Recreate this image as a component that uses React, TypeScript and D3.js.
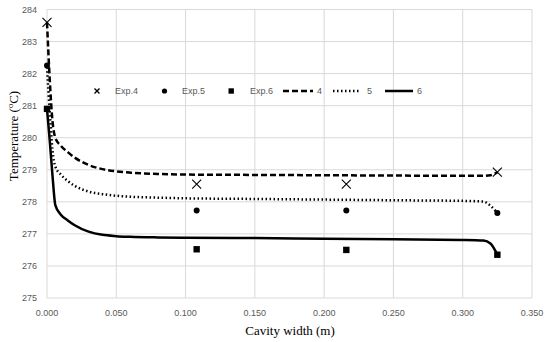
import React from "react";
import * as d3 from "d3";

const width = 550;
const height = 342;
const margin = { top: 9.5, right: 18, bottom: 44, left: 47 };

// simulated curves (cavity width in m, temperature in °C)
const curveX = [0, 0.002, 0.004, 0.006, 0.01, 0.015, 0.02, 0.03, 0.04, 0.05, 0.06, 0.08, 0.1, 0.15, 0.2, 0.25, 0.3, 0.315, 0.32, 0.325];
const sim4 = [283.6, 281.8, 280.5, 280.0, 279.75, 279.55, 279.38, 279.15, 279.02, 278.95, 278.91, 278.87, 278.85, 278.84, 278.83, 278.82, 278.81, 278.81, 278.83, 278.92];
const sim5 = [282.2, 280.8, 279.6, 279.1, 278.85, 278.65, 278.5, 278.32, 278.24, 278.19, 278.16, 278.13, 278.11, 278.09, 278.07, 278.05, 278.03, 278.01, 277.88, 277.65];
const sim6 = [280.9, 279.9, 278.8, 277.9, 277.6, 277.42, 277.27, 277.07, 276.97, 276.93, 276.91, 276.89, 276.88, 276.87, 276.85, 276.83, 276.81, 276.79, 276.7, 276.35];

// experimental points
const expX = [0, 0.108, 0.216, 0.325];
const exp4 = [283.6, 278.55, 278.55, 278.93];
const exp5 = [282.25, 277.73, 277.73, 277.65];
const exp6 = [280.9, 276.52, 276.5, 276.35];

const xTicks = [0, 0.05, 0.1, 0.15, 0.2, 0.25, 0.3, 0.35];
const yTicks = [275, 276, 277, 278, 279, 280, 281, 282, 283, 284];

const grey = "#595959";
const gridColor = "#d9d9d9";
const tickFont = "Liberation Sans, Arial, sans-serif";
const titleFont = "Liberation Serif, Times New Roman, serif";

const xScale = d3.scaleLinear().domain([0, 0.35]).range([margin.left, width - margin.right]);
const yScale = d3.scaleLinear().domain([275, 284]).range([height - margin.bottom, margin.top]);

const lineGen = d3
  .line<number>()
  .x((d, i) => xScale(curveX[i]))
  .y(d => yScale(d))
  .curve(d3.curveMonotoneX);

const Cross = ({ x, y, s, w }: { x: number; y: number; s: number; w: number }) => (
  <path d={`M${x - s},${y - s}L${x + s},${y + s}M${x - s},${y + s}L${x + s},${y - s}`} stroke="#000" strokeWidth={w} fill="none" />
);

const App = () => {
  const legendY = 91;
  return (
    <svg width={width} height={height} style={{ position: "absolute", left: 0, top: 0, background: "#fff" }}>
      {/* grid */}
      {xTicks.map(t => (
        <line key={"gx" + t} x1={xScale(t)} x2={xScale(t)} y1={yScale(284)} y2={yScale(275)} stroke={gridColor} strokeWidth={1} />
      ))}
      {yTicks.map(t => (
        <line key={"gy" + t} x1={xScale(0)} x2={xScale(0.35)} y1={yScale(t)} y2={yScale(t)} stroke={gridColor} strokeWidth={1} />
      ))}

      {/* tick labels */}
      {xTicks.map(t => (
        <text key={"tx" + t} x={xScale(t)} y={yScale(275) + 18} textAnchor="middle" fontSize={9} fill={grey} fontFamily={tickFont}>
          {d3.format(".3f")(t)}
        </text>
      ))}
      {yTicks.map(t => (
        <text key={"ty" + t} x={37} y={yScale(t) + 3.2} textAnchor="end" fontSize={9} fill={grey} fontFamily={tickFont}>
          {t}
        </text>
      ))}

      {/* axis titles */}
      <text x={290} y={335} textAnchor="middle" fontSize={13} fontFamily={titleFont} fill="#000">
        Cavity width (m)
      </text>
      <text transform="translate(18, 136) rotate(-90)" textAnchor="middle" fontSize={13} fontFamily={titleFont} fill="#000">
        Temperature (<tspan fontSize={8.5} dy={-5}>o</tspan><tspan dy={5}>C)</tspan>
      </text>

      {/* simulated curves */}
      <path d={lineGen(sim4) || ""} fill="none" stroke="#000" strokeWidth={2.5} strokeDasharray="6,3" />
      <path d={lineGen(sim5) || ""} fill="none" stroke="#000" strokeWidth={2.5} strokeDasharray="1.5,2.5" />
      <path d={lineGen(sim6) || ""} fill="none" stroke="#000" strokeWidth={2.5} />

      {/* experimental points */}
      {exp4.map((v, i) => (
        <Cross key={"e4" + i} x={xScale(expX[i])} y={yScale(v)} s={4.5} w={1.1} />
      ))}
      {exp5.map((v, i) => (
        <circle key={"e5" + i} cx={xScale(expX[i])} cy={yScale(v)} r={3} fill="#000" />
      ))}
      {exp6.map((v, i) => (
        <rect key={"e6" + i} x={xScale(expX[i]) - 3.2} y={yScale(v) - 3.2} width={6.4} height={6.4} fill="#000" />
      ))}

      {/* legend */}
      <g fontSize={9} fill={grey} fontFamily={tickFont}>
        <Cross x={97} y={legendY} s={2.5} w={1.4} />
        <text x={115} y={legendY + 3.2}>Exp.4</text>
        <circle cx={164.5} cy={legendY} r={2.6} fill="#000" />
        <text x={182} y={legendY + 3.2}>Exp.5</text>
        <rect x={228.5} y={legendY - 2.7} width={5.4} height={5.4} fill="#000" />
        <text x={250} y={legendY + 3.2}>Exp.6</text>
        <line x1={283} x2={313} y1={legendY} y2={legendY} stroke="#000" strokeWidth={2.5} strokeDasharray="6,3" />
        <text x={317} y={legendY + 3.2}>4</text>
        <line x1={333} x2={361} y1={legendY} y2={legendY} stroke="#000" strokeWidth={2.5} strokeDasharray="1.5,2.5" />
        <text x={367} y={legendY + 3.2}>5</text>
        <line x1={385} x2={413} y1={legendY} y2={legendY} stroke="#000" strokeWidth={2.5} />
        <text x={417} y={legendY + 3.2}>6</text>
      </g>
    </svg>
  );
};

export default App;
